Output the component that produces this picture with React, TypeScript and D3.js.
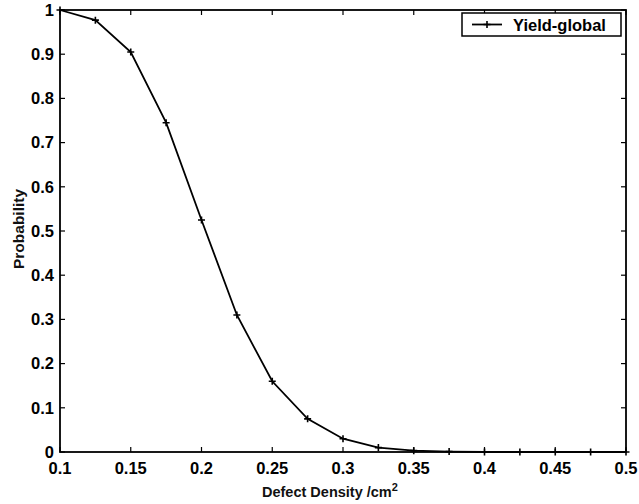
import React from "react";
import * as d3 from "d3";

const defectDensity = [0.1, 0.125, 0.15, 0.175, 0.2, 0.225, 0.25, 0.275, 0.3, 0.325, 0.35, 0.375, 0.4, 0.425, 0.45, 0.475, 0.5];
const yieldGlobal = [1.0, 0.977, 0.905, 0.745, 0.525, 0.31, 0.16, 0.075, 0.03, 0.01, 0.003, 0.001, 0, 0, 0, 0, 0];
const xTicks = [0.1, 0.15, 0.2, 0.25, 0.3, 0.35, 0.4, 0.45, 0.5];
const xTickLabels = ["0.1", "0.15", "0.2", "0.25", "0.3", "0.35", "0.4", "0.45", "0.5"];
const yTicks = [0, 0.1, 0.2, 0.3, 0.4, 0.5, 0.6, 0.7, 0.8, 0.9, 1];
const yTickLabels = ["0", "0.1", "0.2", "0.3", "0.4", "0.5", "0.6", "0.7", "0.8", "0.9", "1"];
const seriesName = "Yield-global";

const W = 639, H = 504;
const L = 60, R = 626, T = 10, B = 452;
const FONT = "'Liberation Sans', Arial, Helvetica, sans-serif";

export default function App() {
  const x = d3.scaleLinear().domain([0.1, 0.5]).range([L, R]);
  const y = d3.scaleLinear().domain([0, 1]).range([B, T]);
  const pts: [number, number][] = defectDensity.map((d, i) => [x(d), y(yieldGlobal[i])]);
  const line = d3.line()(pts) || "";
  const tk = 5;
  const ms = 3.5;
  const plus = (cx: number, cy: number, k: string) => (
    <path key={k} d={`M${cx - ms},${cy}H${cx + ms}M${cx},${cy - ms}V${cy + ms}`} stroke="#000" strokeWidth={1.6} />
  );
  return (
    <svg width={W} height={H} style={{ position: "absolute", left: 0, top: 0, background: "#fff" }} fontFamily={FONT}>
      <rect x={0} y={0} width={W} height={H} fill="#fff" />
      {xTicks.map((t, i) => (
        <g key={"xt" + i}>
          <line x1={x(t)} x2={x(t)} y1={B} y2={B - tk} stroke="#000" strokeWidth={1.2} />
          <line x1={x(t)} x2={x(t)} y1={T} y2={T + tk} stroke="#000" strokeWidth={1.2} />
          <text x={x(t)} y={473.5} textAnchor="middle" fontSize={16.5} fontWeight="bold">{xTickLabels[i]}</text>
        </g>
      ))}
      {yTicks.map((t, i) => (
        <g key={"yt" + i}>
          <line x1={L} x2={L + tk} y1={y(t)} y2={y(t)} stroke="#000" strokeWidth={1.2} />
          <line x1={R} x2={R - tk} y1={y(t)} y2={y(t)} stroke="#000" strokeWidth={1.2} />
          <text x={L - 6} y={y(t) + 5.8} textAnchor="end" fontSize={16.5} fontWeight="bold">{yTickLabels[i]}</text>
        </g>
      ))}
      <rect x={L} y={T} width={R - L} height={B - T} fill="none" stroke="#000" strokeWidth={1.8} />
      <path d={line} fill="none" stroke="#000" strokeWidth={1.8} />
      {pts.map((p, i) => plus(p[0], p[1], "m" + i))}
      <rect x={462} y={13} width={159} height={23} fill="#fff" stroke="#000" strokeWidth={1.5} />
      <line x1={472} x2={502} y1={24.5} y2={24.5} stroke="#000" strokeWidth={1.8} />
      {plus(487, 24.5, "lg")}
      <text x={513} y={30.5} fontSize={16.5} fontWeight="bold">{seriesName}</text>
      <text x={262} y={497} fontSize={14.5} fontWeight="bold" fill="#111">
        Defect Density /cm<tspan dy={-6} fontSize={11}>2</tspan>
      </text>
      <text transform={`translate(24,229) rotate(-90)`} textAnchor="middle" fontSize={15.5} fontWeight="bold" fill="#111">Probability</text>
    </svg>
  );
}
